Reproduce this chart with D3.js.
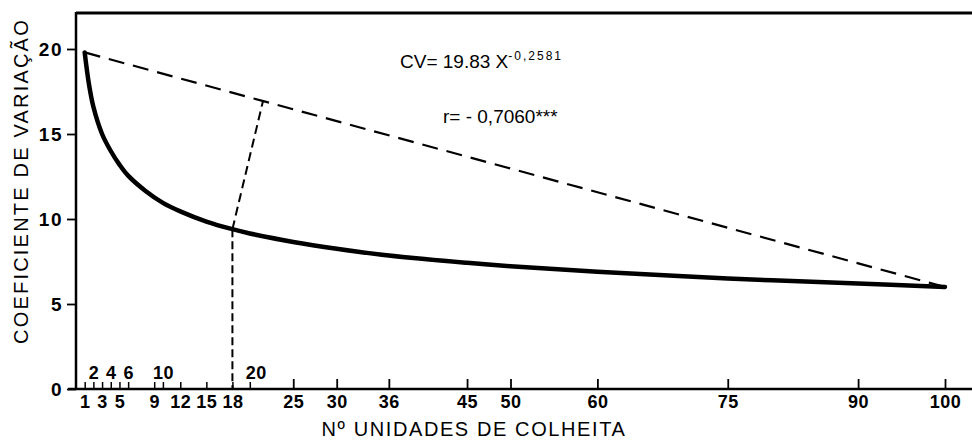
<!DOCTYPE html>
<html><head><meta charset="utf-8">
<script src="https://cdn.jsdelivr.net/npm/d3@7"></script>
<style>html,body{margin:0;padding:0;background:#fff;}svg{display:block;}</style>
</head><body>
<svg id="c" width="972" height="442"></svg>
<script>
// ---- data ----
const curveX  = [1, 1.5, 2, 3, 4, 5, 6, 8, 10, 12, 15, 18, 20, 25, 30, 36, 45, 50, 60, 75, 90, 100];
const curveCV = [19.8, 17.9, 16.6, 15.0, 14.0, 13.2, 12.55, 11.65, 10.95, 10.45, 9.85, 9.4, 9.15, 8.65, 8.25, 7.85, 7.42, 7.22, 6.9, 6.5, 6.2, 6.0];
const chordX  = [1, 100];          // dashed chord between curve ends
const chordCV = [19.8, 6.0];
const perpX   = [18, 21.5];        // dashed segment from curve to chord
const perpCV  = [9.4, 16.9];
const vertX   = [18, 18];          // vertical dashed drop to axis
const vertCV  = [9.4, 0];
const xLabelsBottom = [1, 3, 5, 9, 12, 15, 18, 25, 30, 36, 45, 50, 60, 75, 90, 100];
const xLabelsTop    = [2, 4, 6, 10, 20];
const xMinorTicks   = [1, 2, 3, 4, 5, 6, 9, 10, 12, 15, 18, 20];
const xMajorTicks   = [25, 30, 36, 45, 50, 60, 75, 90, 100];
const yTicks = [0, 5, 10, 15, 20];
const eqMain = "CV= 19.83 X";
const eqExp  = "-0,2581";
const rText  = "r= - 0,7060***";
const xTitle = "Nº UNIDADES DE COLHEITA";
const yTitle = "COEFICIENTE DE VARIAÇÃO";

const svg = d3.select("#c");
const x = d3.scaleLinear().domain([0, 100]).range([76, 945]);
const y = d3.scaleLinear().domain([0, 20]).range([389, 49]);
const font = "'Liberation Sans', Arial, sans-serif";

// frame: top line + y axis line + x axis line
svg.append("line").attr("x1", x(0)).attr("x2", 972).attr("y1", 13).attr("y2", 13)
  .attr("stroke", "#000").attr("stroke-width", 3);
svg.append("line").attr("x1", x(0)).attr("x2", x(0)).attr("y1", 12).attr("y2", y(0))
  .attr("stroke", "#000").attr("stroke-width", 2.5);
svg.append("line").attr("x1", 68).attr("x2", 972).attr("y1", y(0)).attr("y2", y(0))
  .attr("stroke", "#000").attr("stroke-width", 2.5);

// y axis ticks + labels
const yAxis = d3.axisLeft(y).tickValues(yTicks).tickSize(9).tickPadding(4).tickFormat(d3.format("d"));
const gy = svg.append("g").attr("transform", `translate(${x(0)},0)`).call(yAxis);
gy.select(".domain").remove();
gy.selectAll(".tick line").attr("stroke-width", 1.8);
gy.selectAll(".tick text").attr("font-family", font).attr("font-weight", "bold")
  .attr("font-size", 19).attr("letter-spacing", 1.5).attr("fill", "#000");

// x ticks (pointing upward, inside)
const gMinor = svg.append("g").attr("transform", `translate(0,${y(0)})`)
  .call(d3.axisTop(x).tickValues(xMinorTicks).tickSize(7).tickFormat(""));
gMinor.select(".domain").remove();
gMinor.selectAll(".tick line").attr("stroke-width", 1.5);
const gMajor = svg.append("g").attr("transform", `translate(0,${y(0)})`)
  .call(d3.axisTop(x).tickValues(xMajorTicks).tickSize(10).tickFormat(""));
gMajor.select(".domain").remove();
gMajor.selectAll(".tick line").attr("stroke-width", 1.8);

// bottom labels
const gB = svg.append("g").attr("transform", `translate(0,${y(0)})`)
  .call(d3.axisBottom(x).tickValues(xLabelsBottom).tickSize(0).tickPadding(6).tickFormat(d3.format("d")));
gB.select(".domain").remove();
gB.selectAll(".tick text").attr("font-family", font).attr("font-weight", "bold")
  .attr("font-size", 18).attr("letter-spacing", 0.5).attr("fill", "#000");

// top labels (above axis, inside plot)
const gT = svg.append("g").attr("transform", `translate(0,${y(0)})`)
  .call(d3.axisTop(x).tickValues(xLabelsTop).tickSize(0).tickPadding(10).tickFormat(d3.format("d")));
gT.select(".domain").remove();
gT.selectAll(".tick text").attr("font-family", font).attr("font-weight", "bold")
  .attr("font-size", 18).attr("letter-spacing", 0.5).attr("fill", "#000");
gT.selectAll(".tick").filter(d => d === 20).select("text").attr("dx", 6);

// curve
const line = d3.line().x(d => x(d[0])).y(d => y(d[1])).curve(d3.curveCatmullRom.alpha(0.5));
svg.append("path").datum(curveX.map((v, i) => [v, curveCV[i]]))
  .attr("d", line).attr("fill", "none").attr("stroke", "#000")
  .attr("stroke-width", 4.5).attr("stroke-linecap", "round");

const straight = d3.line().x(d => x(d[0])).y(d => y(d[1]));
svg.append("path").datum(chordX.map((v, i) => [v, chordCV[i]]))
  .attr("d", straight).attr("fill", "none").attr("stroke", "#000")
  .attr("stroke-width", 2.2).attr("stroke-dasharray", "16,9");
svg.append("path").datum(perpX.map((v, i) => [v, perpCV[i]]))
  .attr("d", straight).attr("fill", "none").attr("stroke", "#000")
  .attr("stroke-width", 2).attr("stroke-dasharray", "9,5");
svg.append("path").datum(vertX.map((v, i) => [v, vertCV[i]]))
  .attr("d", straight).attr("fill", "none").attr("stroke", "#000")
  .attr("stroke-width", 2).attr("stroke-dasharray", "8,4");

// equation texts
const eq = svg.append("text").attr("x", 400).attr("y", 68)
  .attr("font-family", font).attr("font-size", 19).attr("fill", "#000");
eq.append("tspan").text(eqMain);
eq.append("tspan").attr("dy", -8).attr("font-size", 12).attr("letter-spacing", 2).text(eqExp);
svg.append("text").attr("x", 443).attr("y", 123)
  .attr("font-family", font).attr("font-size", 19).attr("fill", "#000").text(rText);

// axis titles
svg.append("text").attr("x", 474).attr("y", 436).attr("text-anchor", "middle")
  .attr("font-family", font).attr("font-size", 20).attr("letter-spacing", 1.6).attr("fill", "#000").text(xTitle);
svg.append("text").attr("transform", "translate(28,181) rotate(-90)").attr("text-anchor", "middle")
  .attr("font-family", font).attr("font-size", 20).attr("letter-spacing", 2.2).attr("fill", "#000").text(yTitle);
</script>
</body></html>
